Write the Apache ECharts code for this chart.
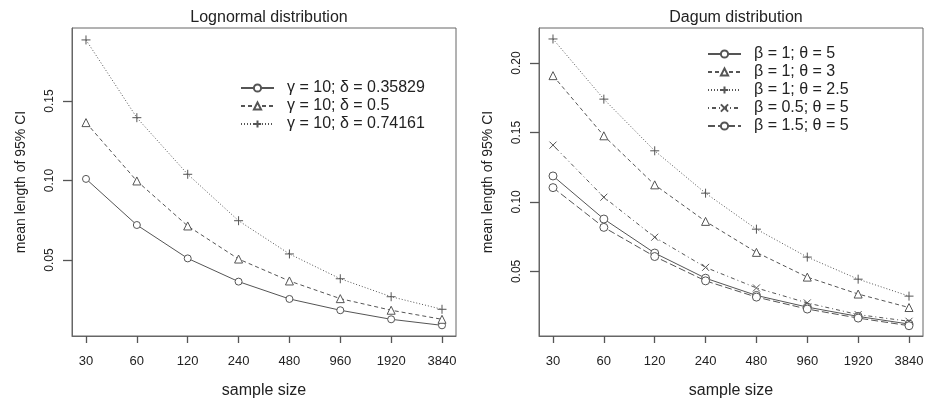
<!DOCTYPE html>
<html>
<head>
<meta charset="utf-8">
<script src="https://cdn.jsdelivr.net/npm/echarts@6/dist/echarts.min.js"></script>
<style>html,body{margin:0;padding:0;background:#fff}#c{width:927px;height:400px}</style>
</head>
<body>
<div id="c"></div>
<script>
var categories = ['30','60','120','240','480','960','1920','3840'];

var lognormalNames = ['γ = 10; δ = 0.35829','γ = 10; δ = 0.5','γ = 10; δ = 0.74161'];
var logCircle   = [0.101, 0.072, 0.051, 0.0364, 0.0255, 0.0184, 0.0127, 0.0089];
var logTriangle = [0.1364, 0.0997, 0.0714, 0.0506, 0.0368, 0.0257, 0.0184, 0.0127];
var logPlus     = [0.1884, 0.1395, 0.1039, 0.0747, 0.0538, 0.0382, 0.0269, 0.019];

var dagumNames = ['β = 1; θ = 5','β = 1; θ = 3','β = 1; θ = 2.5','β = 0.5; θ = 5','β = 1.5; θ = 5'];
var dagB1T5   = [0.1187, 0.0877, 0.0632, 0.0451, 0.0327, 0.0243, 0.0176, 0.0121];
var dagB1T3   = [0.1909, 0.1476, 0.1123, 0.086, 0.0637, 0.0459, 0.0337, 0.024];
var dagB1T25  = [0.2173, 0.174, 0.1368, 0.1063, 0.0804, 0.0603, 0.0444, 0.0322];
var dagB05T5  = [0.1409, 0.1034, 0.0746, 0.0529, 0.0381, 0.0273, 0.0189, 0.0141];
var dagB15T5  = [0.1103, 0.0817, 0.0607, 0.0432, 0.0315, 0.0229, 0.0164, 0.0109];

var leftTicks = [0.05, 0.10, 0.15];
var rightTicks = [0.05, 0.10, 0.15, 0.20];

var FONT = 'Liberation Sans';
var LC = '#555';
var TICK = '#555';
var idx = categories.map(function(_, i){ return i; });
function pts(arr){ return arr.map(function(v,i){ return [i, v]; }); }

var SYM = {
  circle: 'circle',
  triangle: 'triangle',
  plus: 'path://M5,0L5,10M0,5L10,5',
  cross: 'path://M0,0L10,10M10,0L0,10'
};

function mkSeries(name, data, sym, size, dash, gi){
  return {
    name: name, type: 'line', xAxisIndex: gi, yAxisIndex: gi,
    data: pts(data), symbol: SYM[sym], symbolSize: size,
    lineStyle: {color: LC, width: 1, type: dash},
    itemStyle: {color: '#fff', borderColor: LC, borderWidth: 1},
    emphasis: {disabled: true}, animation: false, z: 3
  };
}

function xAxis(gi){
  return {
    type: 'value', gridIndex: gi, min: -0.275, max: 7.275,
    axisLine: {show: true, onZero: false, lineStyle: {color: '#666'}},
    splitLine: {show: false},
    axisTick: {show: true, customValues: idx, length: 7, lineStyle: {color: TICK, width: 1.3}},
    axisLabel: {customValues: idx, formatter: function(v){ return categories[Math.round(v)]; },
      margin: 19, fontFamily: FONT, fontSize: 13, color: '#222'},
    name: 'sample size', nameLocation: 'middle', nameGap: 47,
    nameTextStyle: {fontFamily: FONT, fontSize: 16, color: '#222'}
  };
}
function yAxis(gi, min, max, ticks){
  return {
    type: 'value', gridIndex: gi, min: min, max: max,
    axisLine: {show: true, onZero: false, lineStyle: {color: '#666'}},
    splitLine: {show: false},
    axisTick: {show: true, customValues: ticks, length: 9, lineStyle: {color: TICK, width: 1.3}},
    axisLabel: {customValues: ticks, formatter: function(v){ return v.toFixed(2); },
      rotate: 90, margin: 16, fontFamily: FONT, fontSize: 12, color: '#222'},
    name: 'mean length of 95% CI', nameLocation: 'middle', nameGap: 44, nameRotate: 90,
    nameTextStyle: {fontFamily: FONT, fontSize: 14, color: '#222'}
  };
}

var legendCommon = {
  orient: 'vertical', itemWidth: 33, itemHeight: 9, itemGap: 2, padding: 0,
  textStyle: {fontFamily: FONT, fontSize: 16, lineHeight: 14, color: '#222', padding: [0,0,0,8]},
  selectedMode: false, backgroundColor: 'transparent'
};

var option = {
  backgroundColor: '#fff',
  animation: false,
  title: [
    {text: 'Lognormal distribution', left: 264, top: 5, textAlign: 'center',
     textStyle: {fontFamily: FONT, fontSize: 16, fontWeight: 'normal', color: '#222'}},
    {text: 'Dagum distribution', left: 731, top: 5, textAlign: 'center',
     textStyle: {fontFamily: FONT, fontSize: 16, fontWeight: 'normal', color: '#222'}}
  ],
  grid: [
    {left: 72, right: 471, top: 28, bottom: 64, show: true, borderColor: '#666', borderWidth: 1,
     outerBoundsMode: 'none', containLabel: false},
    {left: 539, right: 4, top: 28, bottom: 64, show: true, borderColor: '#666', borderWidth: 1,
     outerBoundsMode: 'none', containLabel: false}
  ],
  xAxis: [xAxis(0), xAxis(1)],
  yAxis: [yAxis(0, 0.0022, 0.1959, leftTicks), yAxis(1, 0.0035, 0.2252, rightTicks)],
  legend: [
    Object.assign({}, legendCommon, {left: 240, top: 80, data: lognormalNames}),
    Object.assign({}, legendCommon, {left: 707, top: 46, data: dagumNames})
  ],
  series: [
    mkSeries(lognormalNames[0], logCircle, 'circle', 7, 'solid', 0),
    mkSeries(lognormalNames[1], logTriangle, 'triangle', 8, [4,3], 0),
    mkSeries(lognormalNames[2], logPlus, 'plus', 9, [1,2], 0),
    mkSeries(dagumNames[0], dagB1T5, 'circle', 8, 'solid', 1),
    mkSeries(dagumNames[1], dagB1T3, 'triangle', 8, [4,3], 1),
    mkSeries(dagumNames[2], dagB1T25, 'plus', 9, [1,2], 1),
    mkSeries(dagumNames[3], dagB05T5, 'cross', 7, [1,3,4,3], 1),
    mkSeries(dagumNames[4], dagB15T5, 'circle', 8, [7,3], 1)
  ]
};
var chart = echarts.init(document.getElementById('c'), null, {renderer: 'canvas'});
chart.setOption(option);
</script>
</body>
</html>
